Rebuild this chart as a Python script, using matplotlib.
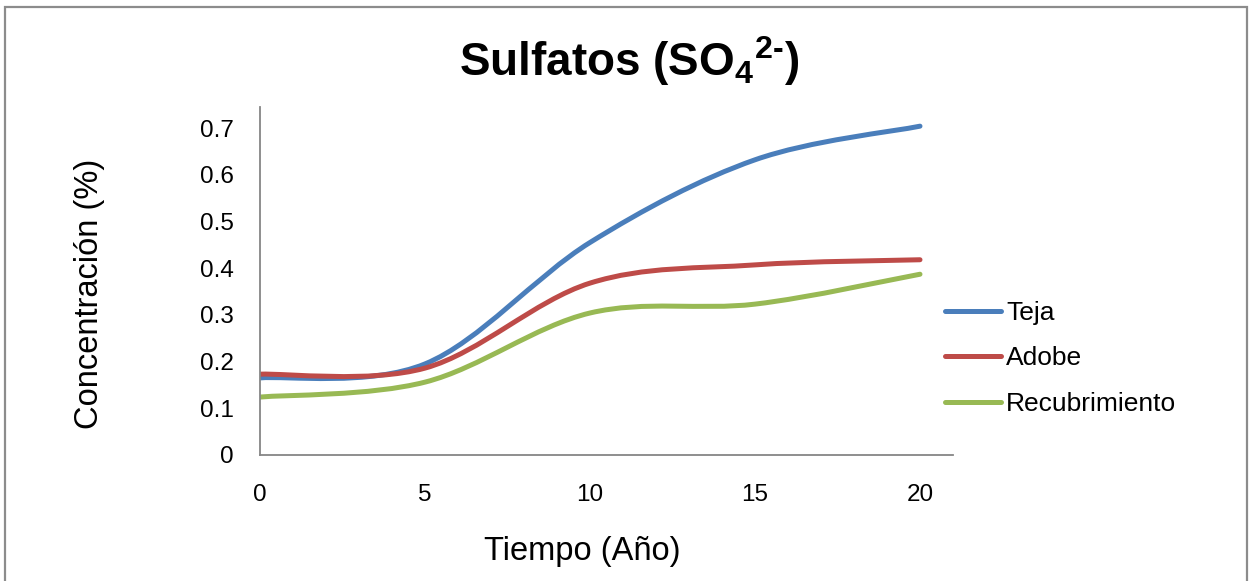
import numpy as np
import matplotlib
matplotlib.use('Agg')
import matplotlib.pyplot as plt
from matplotlib.path import Path
from matplotlib.patches import PathPatch, Rectangle
from matplotlib.lines import Line2D

plt.rcParams['font.family'] = ['Liberation Sans', 'DejaVu Sans']
plt.rcParams['mathtext.fontset'] = 'custom'
plt.rcParams['mathtext.rm'] = 'Liberation Sans:bold'
plt.rcParams['mathtext.bf'] = 'Liberation Sans:bold'

# data
anios = [0, 5, 10, 15, 20]
teja = [0.165, 0.195, 0.455, 0.632, 0.704]
adobe = [0.173, 0.186, 0.368, 0.407, 0.418]
recubrimiento = [0.124, 0.156, 0.304, 0.323, 0.387]

series = ['Teja', 'Adobe', 'Recubrimiento']
colores = ['#4A7EBB', '#BE4B48', '#98B954']


def smooth_path(xs, ys):
    # excel-like smoothing: cubic bezier, catmull-rom control points
    p = np.column_stack([xs, ys]).astype(float)
    n = len(p)
    verts = [p[0]]
    codes = [Path.MOVETO]
    for i in range(n - 1):
        p0 = p[max(i - 1, 0)]
        p1 = p[i]
        p2 = p[i + 1]
        p3 = p[min(i + 2, n - 1)]
        c1 = p1 + (p2 - p0) / 6.
        c2 = p2 - (p3 - p1) / 6.
        verts += [c1, c2, p2]
        codes += [Path.CURVE4] * 3
    return Path(verts, codes)


fig = plt.figure(figsize=(12.49, 5.81), dpi=100)
ax = fig.add_axes([0.2082, 0.2169, 0.5548, 0.5989])

handles = []
for nombre, vals, c in zip(series, [teja, adobe, recubrimiento], colores):
    pp = PathPatch(smooth_path(anios, vals), facecolor='none', edgecolor=c,
                   lw=3.6, capstyle='round', joinstyle='round')
    ax.add_patch(pp)
    handles.append(Line2D([], [], color=c, lw=3.6, solid_capstyle='round', label=nombre))

ax.set_xlim(0, 21)
ax.set_ylim(0, 0.745)
ax.set_xticks([0, 5, 10, 15, 20])
ax.set_yticks([0, 0.1, 0.2, 0.3, 0.4, 0.5, 0.6, 0.7])
ax.set_yticklabels(['0', '0.1', '0.2', '0.3', '0.4', '0.5', '0.6', '0.7'])
ax.tick_params(axis='both', length=0, labelsize=17.5)
ax.tick_params(axis='x', pad=21)
ax.tick_params(axis='y', pad=19)
for s in ['top', 'right']:
    ax.spines[s].set_visible(False)
for s in ['left', 'bottom']:
    ax.spines[s].set_color('#868686')
    ax.spines[s].set_linewidth(1.3)

fig.text(0.466, 0.050, 'Tiempo (Año)', ha='center', va='center', fontsize=23.5)
fig.text(0.072, 0.495, 'Concentración (%)', ha='center', va='center',
         rotation=90, fontsize=23.5)
fig.text(0.504, 0.895, r'Sulfatos (SO$_\mathbf{4}$$^\mathbf{2‐}$)', ha='center',
         va='center', fontsize=33, fontweight='bold')

fig.legend(handles=handles, loc='center left', bbox_to_anchor=(0.757, 0.383),
           frameon=False, fontsize=19, handlelength=2.1, handletextpad=0.2,
           labelspacing=0.82, borderpad=0, borderaxespad=0)

# chart area border
fig.patches.append(Rectangle((0.004, -0.05), 0.994, 1.038, transform=fig.transFigure,
                             fill=False, edgecolor='#8C8C8C', lw=1.6))

fig.savefig('out.png', dpi=100)
